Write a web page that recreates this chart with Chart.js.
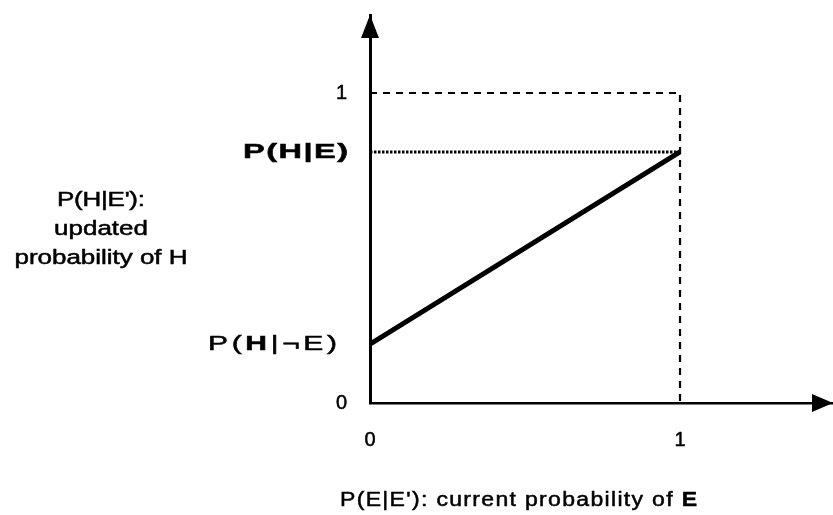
<!DOCTYPE html>
<html>
<head>
<meta charset="utf-8">
<script src="https://cdn.jsdelivr.net/npm/chart.js@4.4.0/dist/chart.umd.min.js"></script>
<style>
  html, body { margin: 0; padding: 0; background: #fff; }
  #wrap { width: 833px; height: 515px; }
</style>
</head>
<body>
<div id="wrap"><canvas id="updateChart"></canvas></div>
<script>
// current probability of E at the two ends of the update line
const evidenceProb = [0, 1];
// updated probability of H at those ends: P(H|¬E) and P(H|E)
const updatedProb = [0.19, 0.81];
// upper bound for both probabilities
const probMax = 1;

const xTickValues = [0, 1];
const xTickLabels = ["0", "1"];
const yTickValues = [0, 1];
const yTickLabels = ["0", "1"];

// labels written as runs of [text, weight] so single letters can be bold
const highLabel = [["P(H|E)", "bold"]];
const lowLabel = [["P(", "normal"], ["H", "bold"], ["|¬E)", "normal"]];
const yTitle = ["P(H|E'):", "updated", "probability of H"];
const xTitle = [["P(E|E'): current probability of ", "normal"], ["E", "bold"]];

const FONT = '"Liberation Sans", Arial, sans-serif';

// draws the runs one character at a time, stretched and spread to a given width
function drawRuns(ctx, runs, x, y, width, size, align, sx) {
  const chars = [];
  runs.forEach(([text, weight]) => {
    for (const ch of text) chars.push({ ch, font: weight + " " + size + "px " + FONT });
  });
  let natural = 0;
  chars.forEach(c => {
    ctx.font = c.font;
    c.w = ctx.measureText(c.ch).width * sx;
    natural += c.w;
  });
  const gap = chars.length > 1 ? (width - natural) / (chars.length - 1) : 0;
  let cx = align === "right" ? x - width : align === "center" ? x - width / 2 : x;
  chars.forEach(c => {
    ctx.save();
    ctx.font = c.font;
    ctx.translate(cx, y);
    ctx.scale(sx, 1);
    ctx.fillText(c.ch, 0, 0);
    ctx.lineWidth = 0.5;
    ctx.strokeText(c.ch, 0, 0);
    ctx.restore();
    cx += c.w + gap;
  });
}

const annotations = {
  id: "annotations",
  afterDraw(chart) {
    const { ctx, chartArea, scales } = chart;
    const xs = scales.x, ys = scales.y;
    const x0 = xs.getPixelForValue(0);
    const y0 = ys.getPixelForValue(0);

    ctx.save();
    ctx.fillStyle = "#000";
    ctx.strokeStyle = "#000";

    // arrow heads at the ends of both axes
    ctx.beginPath();
    ctx.moveTo(x0, chartArea.top);
    ctx.lineTo(x0 - 9, chartArea.top + 23);
    ctx.lineTo(x0 + 9, chartArea.top + 23);
    ctx.closePath();
    ctx.fill();

    ctx.beginPath();
    ctx.moveTo(chartArea.right, y0);
    ctx.lineTo(chartArea.right - 21, y0 - 9);
    ctx.lineTo(chartArea.right - 21, y0 + 9);
    ctx.closePath();
    ctx.fill();

    ctx.textBaseline = "middle";
    drawRuns(ctx, highLabel, x0 - 22, ys.getPixelForValue(updatedProb[1]), 105, 21, "right", 1.55);
    drawRuns(ctx, lowLabel, x0 - 33, ys.getPixelForValue(updatedProb[0]), 129, 20, "right", 1.5);

    ctx.textBaseline = "alphabetic";
    const widths = [88, 94, 173];
    yTitle.forEach((line, i) => {
      drawRuns(ctx, [[line, "normal"]], 101, 206 + i * 29, widths[i], 20, "center", 1.3);
    });
    drawRuns(ctx, xTitle, 340, 506, 357, 20, "left", 1.15);
    ctx.restore();
  }
};

const ctx = document.getElementById("updateChart").getContext("2d");
const updateChart = new Chart(ctx, {
  type: "line",
  data: {
    datasets: [
      {
        // the update line from P(H|¬E) to P(H|E)
        data: evidenceProb.map((x, i) => ({ x, y: updatedProb[i] })),
        borderColor: "#000",
        borderWidth: 5,
        pointRadius: 0,
      },
      {
        // dashed box at probability 1
        data: [
          { x: evidenceProb[0], y: probMax },
          { x: evidenceProb[1], y: probMax },
          { x: evidenceProb[1], y: 0 },
        ],
        borderColor: "#000",
        borderWidth: 2.2,
        borderDash: [7, 6],
        pointRadius: 0,
      },
      {
        // dotted guide at P(H|E)
        data: [
          { x: evidenceProb[0], y: updatedProb[1] },
          { x: evidenceProb[1], y: updatedProb[1] },
        ],
        borderColor: "#000",
        borderWidth: 3,
        borderDash: [2.5, 1.5],
        pointRadius: 0,
      },
    ],
  },
  options: {
    responsive: true,
    maintainAspectRatio: false,
    animation: false,
    layout: { padding: { top: 15, right: 0, left: 0, bottom: 0 } },
    plugins: {
      legend: { display: false },
      tooltip: { enabled: false },
    },
    scales: {
      x: {
        type: "linear",
        min: 0,
        max: 1.4935,
        grid: { display: false },
        border: { display: true, color: "#000", width: 2.5 },
        afterBuildTicks: (scale) => {
          scale.ticks = xTickValues.map((v) => ({ value: v }));
        },
        afterFit: (scale) => {
          scale.height = 112;
          scale.paddingLeft = 0;
          scale.paddingRight = 0;
        },
        ticks: {
          callback: (v, i) => xTickLabels[i],
          color: "#000",
          textStrokeColor: "#000",
          textStrokeWidth: 0.5,
          font: { family: FONT, size: 20 },
          padding: 17,
          maxRotation: 0,
        },
      },
      y: {
        type: "linear",
        min: 0,
        max: 1.2516,
        grid: { display: false },
        border: { display: true, color: "#000", width: 3 },
        afterBuildTicks: (scale) => {
          scale.ticks = yTickValues.map((v) => ({ value: v }));
        },
        afterFit: (scale) => {
          scale.width = 370;
          scale.paddingTop = 0;
          scale.paddingBottom = 0;
        },
        ticks: {
          callback: (v, i) => yTickLabels[i],
          color: "#000",
          textStrokeColor: "#000",
          textStrokeWidth: 0.5,
          font: { family: FONT, size: 20 },
          padding: 15,
        },
      },
    },
  },
  plugins: [annotations],
});
</script>
</body>
</html>
